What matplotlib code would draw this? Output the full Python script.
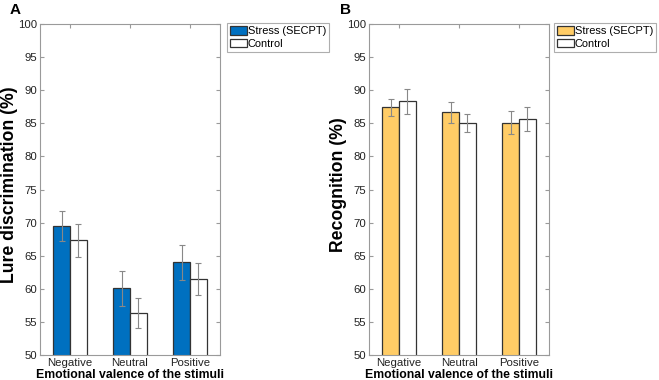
import matplotlib
matplotlib.use("Agg")
import matplotlib.pyplot as plt
import numpy as np
from matplotlib.patches import Patch

plt.rcParams['font.family'] = ['Liberation Sans', 'DejaVu Sans']

categories = ["Negative", "Neutral", "Positive"]
series = ["Stress (SECPT)", "Control"]

lure_stress = [69.5, 60.1, 64.0]
lure_stress_err = [2.3, 2.65, 2.6]
lure_control = [67.3, 56.3, 61.5]
lure_control_err = [2.55, 2.25, 2.45]

recog_stress = [87.4, 86.65, 85.1]
recog_stress_err = [1.3, 1.6, 1.75]
recog_control = [88.3, 85.05, 85.65]
recog_control_err = [1.95, 1.3, 1.75]

yticks = [50, 55, 60, 65, 70, 75, 80, 85, 90, 95, 100]

fig = plt.figure(figsize=(6.59, 3.80), dpi=100)
W, H = 659, 380

def make_axes(x0, x1, y0, y1):
    return fig.add_axes([x0 / W, 1 - y1 / H, (x1 - x0) / W, (y1 - y0) / H])

axA = make_axes(40, 220, 24, 355)
axB = make_axes(369, 549, 24, 355)

edge = '#333333'
spine_c = '#9a9a9a'
err_c = '#888888'

def draw(ax, s, se, c, ce, color, ylabel, legend_pos):
    x = np.arange(1, len(categories) + 1)
    w = 0.28
    ax.bar(x - w / 2, s, w, color=color, edgecolor=edge, linewidth=0.9, zorder=2)
    ax.bar(x + w / 2, c, w, color='white', edgecolor=edge, linewidth=0.9, zorder=2)
    ax.errorbar(x - w / 2, s, yerr=se, fmt='none', ecolor=err_c, elinewidth=0.8, capsize=2, capthick=0.8, zorder=3)
    ax.errorbar(x + w / 2, c, yerr=ce, fmt='none', ecolor=err_c, elinewidth=0.8, capsize=2, capthick=0.8, zorder=3)
    ax.set_xlim(0.5, 3.5)
    ax.set_ylim(50, 100)
    ax.set_yticks(yticks)
    ax.set_xticks(x)
    ax.set_xticklabels(categories)
    for sp in ax.spines.values():
        sp.set_color(spine_c)
        sp.set_linewidth(0.8)
    ax.tick_params(axis='both', which='both', direction='in', length=3, color=spine_c,
                   top=True, right=True, labelsize=8.2, labelcolor='#222222', pad=2)
    ax.set_xlabel("Emotional valence of the stimuli", fontsize=8.8, fontweight='bold', labelpad=1)
    ax.set_ylabel(ylabel, fontsize=12.7, fontweight='bold', va='center')
    ax.yaxis.set_label_coords(-31 / 180, 0.515)
    handles = [Patch(facecolor=color, edgecolor=edge, linewidth=0.9),
               Patch(facecolor='white', edgecolor=edge, linewidth=0.9)]
    leg = ax.legend(handles, series, loc='upper left', bbox_to_anchor=legend_pos,
                    fontsize=7.9, frameon=True, fancybox=False, borderpad=0.25,
                    handlelength=1.55, handleheight=0.85, handletextpad=0.1, labelspacing=0.25,
                    borderaxespad=0)
    leg.get_frame().set_edgecolor(spine_c)
    leg.get_frame().set_linewidth(0.8)

draw(axA, lure_stress, lure_stress_err, lure_control, lure_control_err,
     '#0070C0', "Lure discrimination (%)", (1 + 7 / 180, 1.003))
draw(axB, recog_stress, recog_stress_err, recog_control, recog_control_err,
     '#FFCC66', "Recognition (%)", (1 + 5 / 180, 1.003))

fig.text(10 / W, 1 - 10 / H, "A", fontsize=11, fontweight='bold', va='center', ha='left')
fig.text(340 / W, 1 - 10 / H, "B", fontsize=11, fontweight='bold', va='center', ha='left')

fig.savefig("out.png", dpi=100)
